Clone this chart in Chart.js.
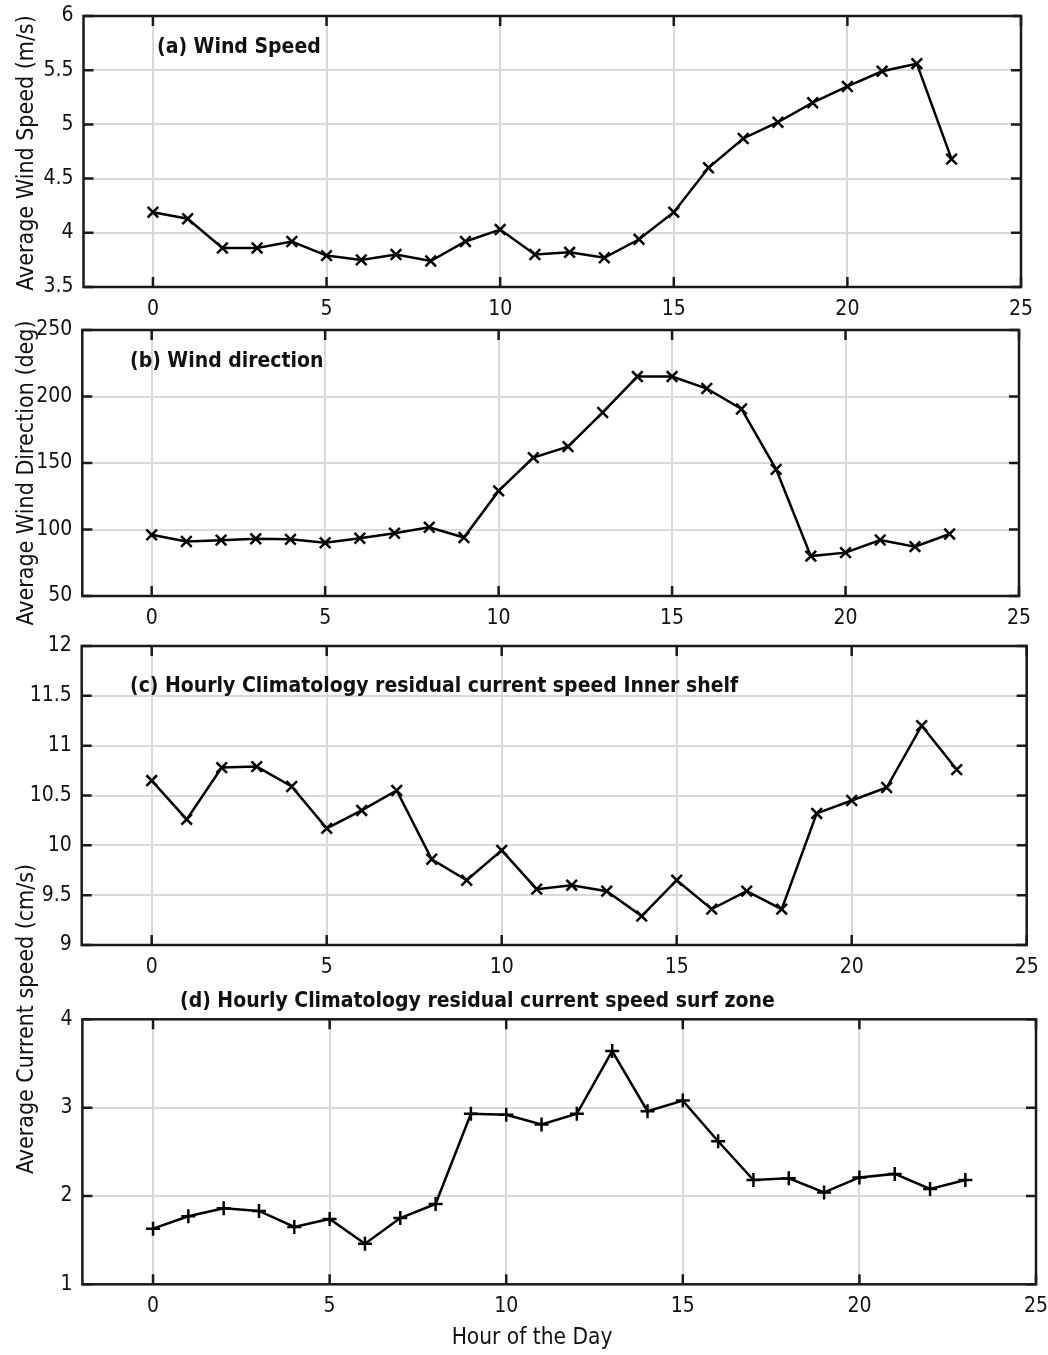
<!DOCTYPE html>
<html>
<head>
<meta charset="utf-8">
<script src="https://cdn.jsdelivr.net/npm/chart.js@4.4.0/dist/chart.umd.min.js"></script>
<style>
  body { margin: 0; background: #fff; width: 1048px; height: 1355px; position: relative; overflow: hidden; }
  canvas { position: absolute; left: 0; }
</style>
</head>
<body>
<canvas id="chartA" width="1048" height="330" style="top:0px"></canvas>
<canvas id="chartB" width="1048" height="330" style="top:310px"></canvas>
<canvas id="chartC" width="1048" height="360" style="top:625px"></canvas>
<canvas id="chartD" width="1048" height="515" style="top:840px"></canvas>
<script>
// hour of the day
const hours = [0, 1, 2, 3, 4, 5, 6, 7, 8, 9, 10, 11, 12, 13, 14, 15, 16, 17, 18, 19, 20, 21, 22, 23];

// (a) average wind speed (m/s)
const windSpeed = [4.19, 4.13, 3.86, 3.86, 3.92, 3.79, 3.75, 3.80, 3.74, 3.92, 4.03, 3.80,
                   3.82, 3.77, 3.94, 4.19, 4.60, 4.87, 5.02, 5.20, 5.35, 5.49, 5.56, 4.68];
// (b) average wind direction (deg)
const windDir = [96, 91, 92, 93, 92.6, 90, 93.4, 97.2, 101.7, 94, 129, 154,
                 162.3, 188, 215, 215, 206, 190.6, 145.2, 80, 82.6, 92.1, 87.1, 96.6];
// (c) residual current speed, inner shelf (cm/s)
const currentInner = [10.65, 10.26, 10.78, 10.79, 10.59, 10.17, 10.35, 10.55, 9.86, 9.65, 9.95, 9.56,
                      9.60, 9.54, 9.29, 9.65, 9.36, 9.54, 9.36, 10.32, 10.45, 10.58, 11.20, 10.76];
// (d) residual current speed, surf zone (cm/s)
const currentSurf = [1.63, 1.77, 1.86, 1.83, 1.65, 1.74, 1.46, 1.75, 1.91, 2.93, 2.92, 2.81,
                     2.93, 3.64, 2.96, 3.08, 2.62, 2.18, 2.20, 2.04, 2.21, 2.25, 2.08, 2.18];

const xTicks = [0, 5, 10, 15, 20, 25];
const ticksA = [3.5, 4, 4.5, 5, 5.5, 6];
const ticksB = [50, 100, 150, 200, 250];
const ticksC = [9, 9.5, 10, 10.5, 11, 11.5, 12];
const ticksD = [1, 2, 3, 4];

const FAMILY = '"DejaVu Sans Condensed", "DejaVu Sans", sans-serif';
const GRID = '#d9d9d9';

function makePanel(id, values, yTicks, marker, box, texts) {
  const framePlugin = {
    id: 'frame',
    afterDraw(chart) {
      const { ctx, chartArea: a, scales: { x, y } } = chart;
      ctx.save();
      ctx.strokeStyle = '#1a1a1a';
      ctx.lineWidth = 2.5;
      ctx.beginPath();
      xTicks.forEach(v => {
        const px = x.getPixelForValue(v);
        ctx.moveTo(px, a.bottom); ctx.lineTo(px, a.bottom - 10);
        ctx.moveTo(px, a.top); ctx.lineTo(px, a.top + 10);
      });
      yTicks.forEach(v => {
        const py = y.getPixelForValue(v);
        ctx.moveTo(a.left, py); ctx.lineTo(a.left + 10, py);
        ctx.moveTo(a.right, py); ctx.lineTo(a.right - 10, py);
      });
      ctx.stroke();
      ctx.strokeRect(a.left, a.top, a.right - a.left, a.bottom - a.top);

      // panel titles and axis labels
      texts.forEach(t => {
        ctx.save();
        ctx.fillStyle = '#111';
        ctx.font = (t.bold ? 'bold ' : '') + t.size + 'px ' + FAMILY;
        ctx.textBaseline = 'middle';
        ctx.textAlign = t.align || 'left';
        ctx.translate(t.x, t.y);
        if (t.rot) ctx.rotate(-Math.PI / 2);
        ctx.fillText(t.text, 0, 0);
        ctx.restore();
      });
      ctx.restore();
    }
  };

  return new Chart(document.getElementById(id), {
    type: 'line',
    data: {
      datasets: [{
        data: hours.map((h, i) => ({ x: h, y: values[i] })),
        borderColor: '#000',
        borderWidth: 2.5,
        pointStyle: marker,
        pointRadius: marker === 'cross' ? 7 : 7.5,
        pointBorderWidth: 2.5,
        pointBorderColor: '#000',
        pointBackgroundColor: '#000',
        tension: 0,
        fill: false
      }]
    },
    options: {
      responsive: false,
      animation: false,
      layout: { padding: { top: box.top, right: box.right, bottom: 0, left: 0 } },
      plugins: { legend: { display: false }, tooltip: { enabled: false } },
      scales: {
        x: {
          type: 'linear',
          min: -2,
          max: 25,
          afterBuildTicks: s => { s.ticks = xTicks.map(v => ({ value: v })); },
          afterFit: s => { s.height = box.xh; s.paddingLeft = 0; s.paddingRight = 0; },
          grid: { color: GRID, lineWidth: 2, drawTicks: false },
          border: { display: false },
          ticks: {
            autoSkip: false, maxRotation: 0, padding: 10,
            color: '#111', font: { family: FAMILY, size: 21 },
            callback: v => String(v)
          }
        },
        y: {
          min: yTicks[0],
          max: yTicks[yTicks.length - 1],
          afterBuildTicks: s => { s.ticks = yTicks.map(v => ({ value: v })); },
          afterFit: s => { s.width = box.left; s.paddingTop = 0; s.paddingBottom = 0; },
          grid: { color: GRID, lineWidth: 2, drawTicks: false },
          border: { display: false },
          ticks: {
            autoSkip: false, padding: 10,
            color: '#111', font: { family: FAMILY, size: 21 },
            callback: v => String(v)
          }
        }
      }
    },
    plugins: [framePlugin]
  });
}

makePanel('chartA', windSpeed, ticksA, 'crossRot',
  { top: 16, right: 27, left: 83.5, xh: 43 },
  [
    { text: '(a) Wind Speed', x: 157, y: 48, size: 21, bold: true },
    { text: 'Average Wind Speed (m/s)', x: 27, y: 153, size: 23, rot: true, align: 'center' }
  ]);

makePanel('chartB', windDir, ticksB, 'crossRot',
  { top: 20, right: 29, left: 82.3, xh: 44 },
  [
    { text: '(b) Wind direction', x: 130, y: 52, size: 21, bold: true },
    { text: 'Average Wind Direction (deg)', x: 27, y: 163, size: 23, rot: true, align: 'center' }
  ]);

makePanel('chartC', currentInner, ticksC, 'crossRot',
  { top: 21, right: 21.3, left: 81.7, xh: 40 },
  [
    { text: '(c) Hourly Climatology residual current speed Inner shelf', x: 130, y: 62, size: 21, bold: true }
  ]);

makePanel('chartD', currentSurf, ticksD, 'cross',
  { top: 179.3, right: 12, left: 82.4, xh: 70.7 },
  [
    { text: '(d) Hourly Climatology residual current speed surf zone', x: 180, y: 162, size: 21, bold: true },
    { text: 'Average Current speed (cm/s)', x: 27, y: 179, size: 23, rot: true, align: 'center' },
    { text: 'Hour of the Day', x: 532, y: 498, size: 22.5, align: 'center' }
  ]);
</script>
</body>
</html>
